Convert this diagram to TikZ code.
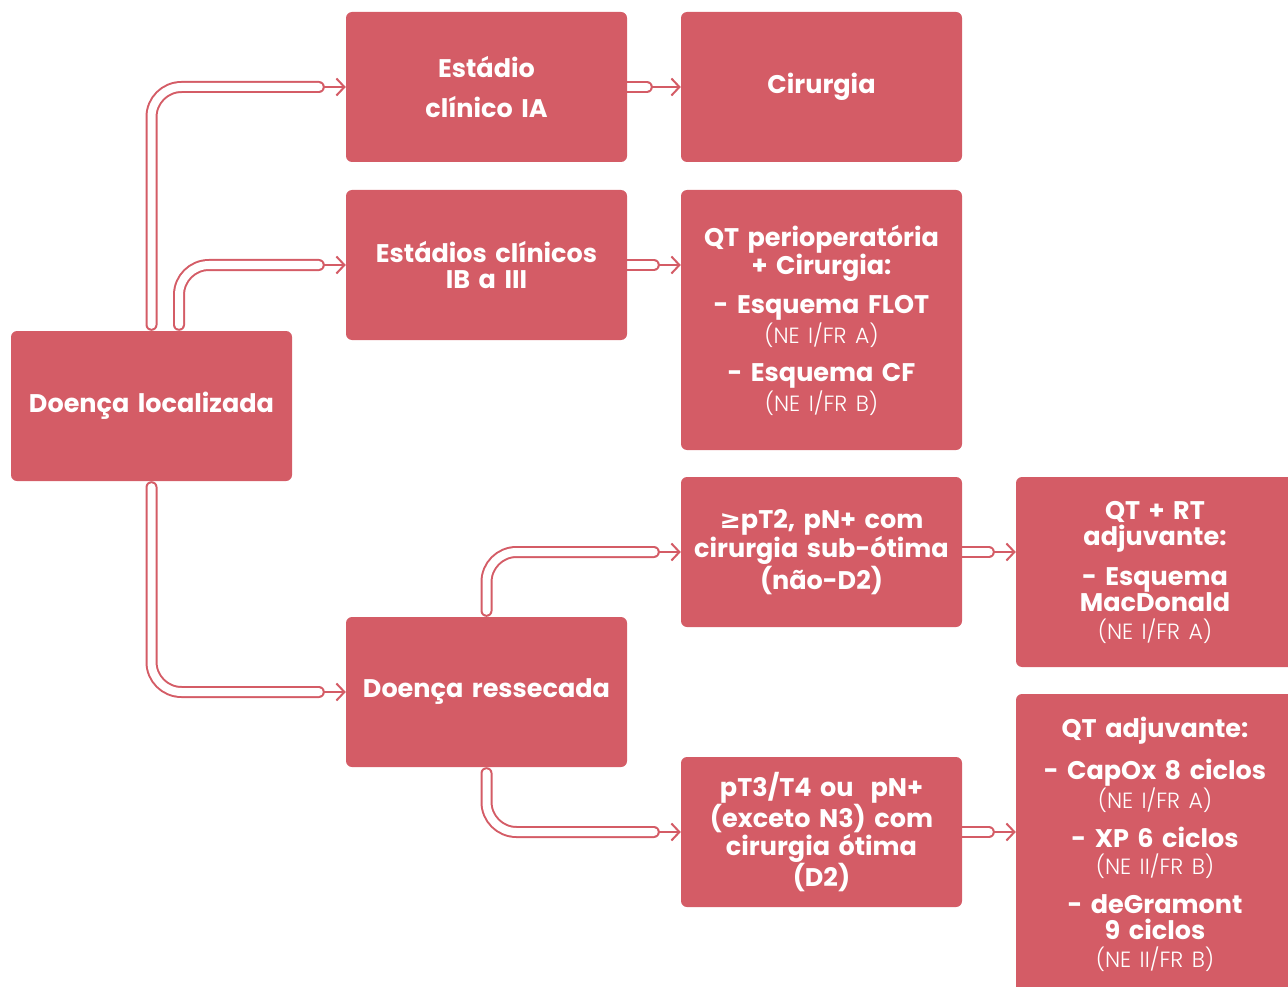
\documentclass[tikz,border=0pt]{standalone}
\usepackage{fontspec}
\setmainfont{Poppins}
\IfFontExistsTF{Poppins Light}{\newfontfamily\lightfont{Poppins Light}}{\newfontfamily\lightfont{Poppins}}
\newfontfamily\symfont{DejaVu Sans}
\usetikzlibrary{arrows.meta,calc,backgrounds}
\definecolor{boxred}{HTML}{D45C66}
\newcommand\neref[1]{{\lightfont\mdseries\fontsize{22}{26}\selectfont #1}}
\begin{document}
\begin{tikzpicture}[x=1pt,y=-1pt,
  box/.style={fill=boxred, rounded corners=6pt, minimum width=281pt, minimum height=150pt,
    inner sep=0pt, text=white, font=\bfseries\fontsize{25.5}{26.5}\selectfont, align=center, text width=278pt},
  tube/.style={draw=boxred, line width=2pt, double=white, double distance=8pt, line cap=round, rounded corners=30pt},
  arr/.style={draw=boxred, line width=2pt, -{Straight Barb[length=8pt,width=17pt,line width=2pt]}},
]
\useasboundingbox (0,0) rectangle (1288,987);
\clip (0,0) rectangle (1288,987);

\node[box] (loc) at (151.5,406) {Doença localizada};
\node[box] (ia) at (486.5,87) {Estádio\\[13pt]clínico IA};
\node[box] (cir) at (821.5,87) {Cirurgia};
\node[box] (ib) at (486.5,265) {Estádios clínicos\\IB a III};
\node[box, minimum height=260pt] (peri) at (821.5,320)
  {QT perioperatória\\+ Cirurgia:\\[13pt]- Esquema FLOT\\[1pt]\neref{(NE I/FR A)}\\[12pt]- Esquema CF\\[1pt]\neref{(NE I/FR B)}};
\node[box] (pt2) at (821.5,552) {{\symfont ≥}pT2, pN+ com\\cirurgia sub-ótima\\(não-D2)};
\node[box, minimum width=278pt, minimum height=190pt] (qtrt) at (1155,572)
  {QT + RT\\adjuvante:\\[13pt]- Esquema\\MacDonald\\[1pt]\neref{(NE I/FR A)}};
\node[box] (res) at (486.5,692) {Doença ressecada};
\node[box] (pt3) at (821.5,832) {pT3/T4 ou\ \ pN+\\(exceto N3) com\\cirurgia ótima\\(D2)};
\node[box, minimum width=278pt, minimum height=300pt] (adj) at (1155,844)
  {QT adjuvante:\\[14pt]- CapOx 8 ciclos\\[1pt]\neref{(NE I/FR A)}\\[12pt]- XP 6 ciclos\\[1pt]\neref{(NE II/FR B)}\\[12pt]- deGramont\\9 ciclos\\[1pt]\neref{(NE II/FR B)}};

\coordinate (a1) at ($(ia.west)+(-27,0)$);
\coordinate (a2) at ($(ib.west)+(-27,0)$);
\coordinate (a3) at ($(res.west)+(-27,0)$);
\coordinate (a4) at ($(pt2.west)+(-27,0)$);
\coordinate (a5) at ($(pt3.west)+(-27,0)$);
\coordinate (b1) at ($(cir.west)+(-34,0)$);
\coordinate (b2) at ($(peri.west |- ib.east)+(-27,0)$);
\coordinate (b3) at ($(qtrt.west |- pt2.east)+(-27,0)$);
\coordinate (b4) at ($(adj.west |- pt3.east)+(-27,0)$);

\begin{scope}[on background layer]
  \draw[arr] (a1) -- (ia.west);
  \draw[arr] (a2) -- (ib.west);
  \draw[arr] (a3) -- (res.west);
  \draw[arr] (a4) -- (pt2.west);
  \draw[arr] (a5) -- (pt3.west);
  \draw[arr] (b1) -- (cir.west);
  \draw[arr] (b2) -- (peri.west |- ib.east);
  \draw[arr] (b3) -- (qtrt.west |- pt2.east);
  \draw[arr] (b4) -- (adj.west |- pt3.east);
  \draw[tube] ($(loc.north)+(0,-6)$) |- (a1);
  \draw[tube] ($(loc.north)+(27.5,-6)$) |- (a2);
  \draw[tube] ($(loc.south)+(0,6)$) |- (a3);
  \draw[tube] ($(res.north)+(0,-6)$) |- (a4);
  \draw[tube] ($(res.south)+(0,6)$) |- (a5);
  \draw[tube] (ia.east) -- (b1);
  \draw[tube] (ib.east) -- (b2);
  \draw[tube] (pt2.east) -- (b3);
  \draw[tube] (pt3.east) -- (b4);
\end{scope}
\end{tikzpicture}
\end{document}
